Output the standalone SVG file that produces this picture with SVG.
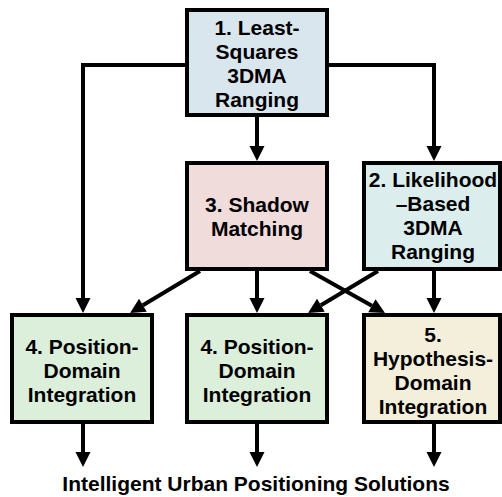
<svg xmlns="http://www.w3.org/2000/svg" width="502" height="497" viewBox="0 0 502 497">
<style>
.box{stroke:#000;stroke-width:4}
.t{font-family:"Liberation Sans",Arial,sans-serif;font-weight:bold;font-size:21px;fill:#000;text-anchor:middle}
.c{fill:none;stroke:#000;stroke-width:4}
</style>
<defs>
<marker id="ah" markerUnits="userSpaceOnUse" markerWidth="16" markerHeight="16" refX="0" refY="7.5" orient="auto" overflow="visible">
<path d="M0,0 L15,7.5 L0,15 z" fill="#000"/>
</marker>
</defs>
<rect width="502" height="497" fill="#fff"/>
<g id="connectors">
<polyline class="c" points="185,65 83,65 83,298" marker-end="url(#ah)"/>
<polyline class="c" points="329,65 434,65 434,146" marker-end="url(#ah)"/>
<line class="c" x1="257" y1="117" x2="257" y2="146" marker-end="url(#ah)"/>
<line class="c" x1="200" y1="271" x2="142.9" y2="305.3" marker-end="url(#ah)"/>
<line class="c" x1="257" y1="271" x2="257" y2="298" marker-end="url(#ah)"/>
<line class="c" x1="310" y1="271" x2="371.9" y2="305.7" marker-end="url(#ah)"/>
<line class="c" x1="378" y1="271" x2="320.9" y2="305.3" marker-end="url(#ah)"/>
<line class="c" x1="434" y1="271" x2="434" y2="298" marker-end="url(#ah)"/>
<line class="c" x1="83" y1="424" x2="83" y2="452" marker-end="url(#ah)"/>
<line class="c" x1="257" y1="424" x2="257" y2="452" marker-end="url(#ah)"/>
<line class="c" x1="434" y1="424" x2="434" y2="452" marker-end="url(#ah)"/>
</g>
<g id="n1">
<rect class="box" x="187" y="10" width="140" height="105" fill="#dae6ee"/>
<text class="t" x="257" y="35">1. Least-</text>
<text class="t" x="257" y="59">Squares</text>
<text class="t" x="257" y="83">3DMA</text>
<text class="t" x="257" y="107">Ranging</text>
</g>
<g id="n3">
<rect class="box" x="187" y="163" width="140" height="106" fill="#f1dcdc"/>
<text class="t" x="257" y="212">3. Shadow</text>
<text class="t" x="257" y="236">Matching</text>
</g>
<g id="n2">
<rect class="box" x="364" y="163" width="136" height="106" fill="#dbeeed"/>
<text class="t" x="433" y="187">2. Likelihood</text>
<text class="t" x="433" y="211">–Based</text>
<text class="t" x="433" y="235">3DMA</text>
<text class="t" x="433" y="259">Ranging</text>
</g>
<g id="n4a">
<rect class="box" x="12" y="315" width="140" height="107" fill="#dcefdb"/>
<text class="t" x="82" y="354">4. Position-</text>
<text class="t" x="82" y="378">Domain</text>
<text class="t" x="82" y="402">Integration</text>
</g>
<g id="n4b">
<rect class="box" x="187" y="315" width="140" height="107" fill="#dcefdb"/>
<text class="t" x="257" y="354">4. Position-</text>
<text class="t" x="257" y="378">Domain</text>
<text class="t" x="257" y="402">Integration</text>
</g>
<g id="n5">
<rect class="box" x="364" y="315" width="136" height="107" fill="#f3efda"/>
<text class="t" x="433" y="342">5.</text>
<text class="t" x="433" y="366">Hypothesis-</text>
<text class="t" x="433" y="390">Domain</text>
<text class="t" x="433" y="414">Integration</text>
</g>
<text class="t" x="256" y="491">Intelligent Urban Positioning Solutions</text>
</svg>
